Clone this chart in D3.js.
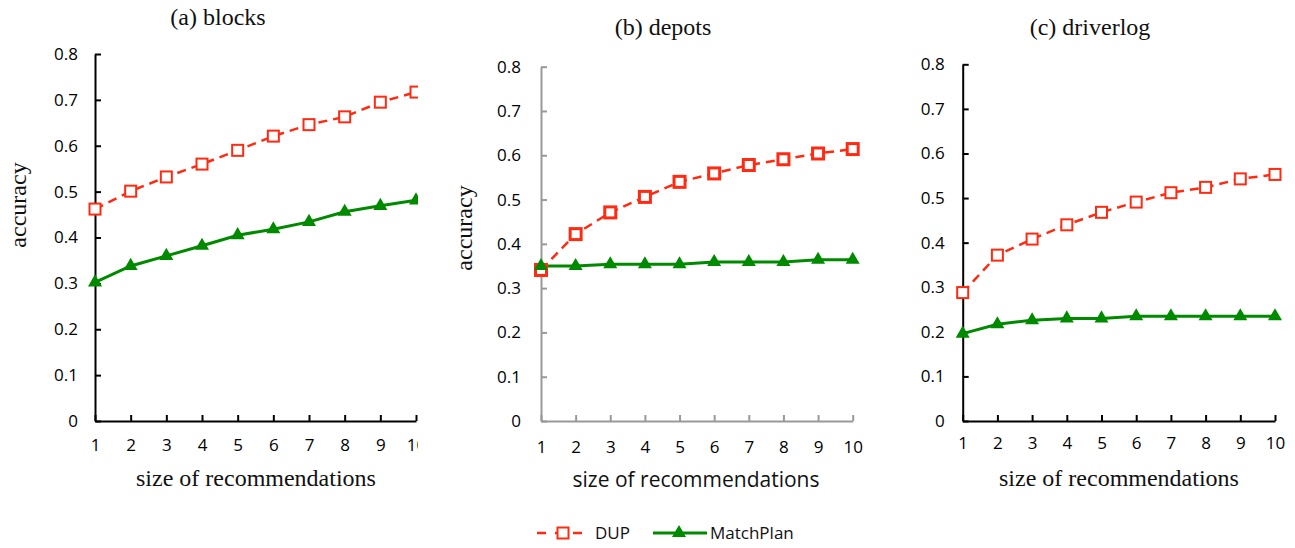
<!DOCTYPE html>
<html>
  <head>
    <meta charset="utf-8">
    <script src="https://d3js.org/d3.v7.min.js"></script>
    <style>
      body { margin: 0px; background: #fff; }
      .tick text { font-family: "Open Sans", sans-serif; font-size: 17px; fill: #000; }
      .serif { font-family: "Liberation Serif", "Times New Roman", serif; font-size: 24px; fill: #111; }
      .sans { font-family: "Open Sans", sans-serif; font-size: 21px; fill: #111; }
      .legend text { font-family: "Open Sans", sans-serif; font-size: 17px; fill: #111; }
    </style>
  </head>
  <body>
    <svg width="1295" height="548"></svg>
    <script>
      // values
      const sizes = [1, 2, 3, 4, 5, 6, 7, 8, 9, 10];
      const yTicks = [0, 0.1, 0.2, 0.3, 0.4, 0.5, 0.6, 0.7, 0.8];
      const seriesNames = ['DUP', 'MatchPlan'];

      const blocksDUP = [0.462, 0.501, 0.532, 0.560, 0.590, 0.621, 0.646, 0.663, 0.695, 0.717];
      const blocksMatch = [0.302, 0.338, 0.360, 0.382, 0.405, 0.418, 0.434, 0.456, 0.469, 0.481];
      const depotsDUP = [0.341, 0.422, 0.471, 0.506, 0.540, 0.559, 0.578, 0.591, 0.604, 0.614];
      const depotsMatch = [0.350, 0.350, 0.354, 0.354, 0.354, 0.359, 0.359, 0.359, 0.364, 0.364];
      const driverDUP = [0.288, 0.372, 0.408, 0.440, 0.468, 0.491, 0.512, 0.524, 0.543, 0.553];
      const driverMatch = [0.196, 0.217, 0.226, 0.230, 0.230, 0.235, 0.235, 0.235, 0.235, 0.235];

      const red = '#ff2a12';
      const green = '#008a00';

      // layout of the three panels
      const panels = [
        { title: '(a) blocks', dup: blocksDUP, match: blocksMatch,
          x0: 95, x1: 416, yTop: 54, yBot: 421, clip: 418, axisColor: '#000', thick: 2,
          labelPad: 17, titleX: 218, titleY: 25, yLabel: [18, 205], xTitle: [256, 486], xTitleSerif: true, xLabY: 28 },
        { title: '(b) depots', dup: depotsDUP, match: depotsMatch,
          x0: 541, x1: 852.7, yTop: 66.7, yBot: 421, clip: null, axisColor: '#999', thick: 3,
          labelPad: 20, titleX: 663, titleY: 35, yLabel: [464, 228], xTitle: [696, 487], xTitleSerif: false, xLabY: 30 },
        { title: '(c) driverlog', dup: driverDUP, match: driverMatch,
          x0: 962.7, x1: 1275, yTop: 64.3, yBot: 421, clip: null, axisColor: '#000', thick: 2,
          labelPad: 18, titleX: 1090, titleY: 35, yLabel: null, xTitle: [1119, 486], xTitleSerif: true, xLabY: 26 }
      ];

      const svg = d3.select('svg');
      const defs = svg.append('defs');
      const triangle = d3.symbol().type(d3.symbolTriangle).size(85);

      panels.forEach((p, i) => {
        const xScale = d3.scaleLinear().domain([1, 10]).range([p.x0, p.x1]);
        const yScale = d3.scaleLinear().domain([0, 0.8]).range([p.yBot, p.yTop]);

        let g = svg.append('g');
        if (p.clip) {
          defs.append('clipPath').attr('id', 'clip' + i)
            .append('rect').attr('x', 0).attr('y', 0).attr('width', p.clip).attr('height', 548);
          g.attr('clip-path', `url(#clip${i})`);
        }

        const yAxis = d3.axisLeft(yScale)
          .tickValues(yTicks)
          .tickFormat(d => d === 0 ? '0' : d3.format('.1f')(d))
          .tickSizeInner(-6)
          .tickSizeOuter(0)
          .tickPadding(p.labelPad);
        const xAxis = d3.axisBottom(xScale)
          .tickValues(sizes)
          .tickFormat(d3.format('d'))
          .tickSizeInner(-6)
          .tickSizeOuter(0)
          .tickPadding(p.xLabY - 10);

        const yAxisG = g.append('g').attr('transform', `translate(${p.x0},0)`).call(yAxis);
        const xAxisG = g.append('g').attr('transform', `translate(0,${p.yBot})`).call(xAxis);
        [yAxisG, xAxisG].forEach(a => {
          a.select('.domain').attr('stroke', p.axisColor).attr('stroke-width', 2);
          a.selectAll('.tick line').attr('stroke', p.axisColor).attr('stroke-width', 2);
        });

        // DUP dashed line
        g.append('path')
          .datum(p.dup)
          .attr('fill', 'none')
          .attr('stroke', red)
          .attr('stroke-width', 2.5)
          .attr('stroke-dasharray', '9,6')
          .attr('d', d3.line().x((d, j) => xScale(sizes[j])).y(d => yScale(d)));

        // MatchPlan solid line
        g.append('path')
          .datum(p.match)
          .attr('fill', 'none')
          .attr('stroke', green)
          .attr('stroke-width', 3)
          .attr('d', d3.line().x((d, j) => xScale(sizes[j])).y(d => yScale(d)));

        g.selectAll('.sq').data(p.dup).enter()
          .append('rect')
            .attr('x', (d, j) => xScale(sizes[j]) - 5.5)
            .attr('y', d => yScale(d) - 5.5)
            .attr('width', 11).attr('height', 11)
            .attr('fill', '#fff')
            .attr('stroke', red)
            .attr('stroke-width', p.thick);

        g.selectAll('.tri').data(p.match).enter()
          .append('path')
            .attr('d', triangle)
            .attr('transform', (d, j) => `translate(${xScale(sizes[j])},${yScale(d)})`)
            .attr('fill', green);

        svg.append('text').attr('class', 'serif')
          .attr('x', p.titleX).attr('y', p.titleY)
          .attr('text-anchor', 'middle')
          .text(p.title);

        if (p.yLabel) {
          svg.append('text').attr('class', 'serif')
            .attr('transform', `translate(${p.yLabel[0] + 8},${p.yLabel[1]}) rotate(-90)`)
            .attr('text-anchor', 'middle')
            .text('accuracy');
        }

        svg.append('text').attr('class', p.xTitleSerif ? 'serif' : 'sans')
          .attr('x', p.xTitle[0]).attr('y', p.xTitle[1])
          .attr('text-anchor', 'middle')
          .text('size of recommendations');
      });

      // legend
      const legend = svg.append('g').attr('class', 'legend').attr('transform', 'translate(0,533)');
      legend.append('line').attr('x1', 537).attr('x2', 582).attr('y1', 0).attr('y2', 0)
        .attr('stroke', red).attr('stroke-width', 2.5).attr('stroke-dasharray', '9,9');
      legend.append('rect').attr('x', 557.5).attr('y', -5.5).attr('width', 11).attr('height', 11)
        .attr('fill', '#fff').attr('stroke', red).attr('stroke-width', 2);
      legend.append('text').attr('x', 595).attr('y', 6).text(seriesNames[0]);
      legend.append('line').attr('x1', 653).attr('x2', 707).attr('y1', 0).attr('y2', 0)
        .attr('stroke', green).attr('stroke-width', 3);
      legend.append('path').attr('d', triangle).attr('transform', 'translate(679,0)').attr('fill', green);
      legend.append('text').attr('x', 710).attr('y', 6).text(seriesNames[1]);
    </script>
  </body>
</html>
